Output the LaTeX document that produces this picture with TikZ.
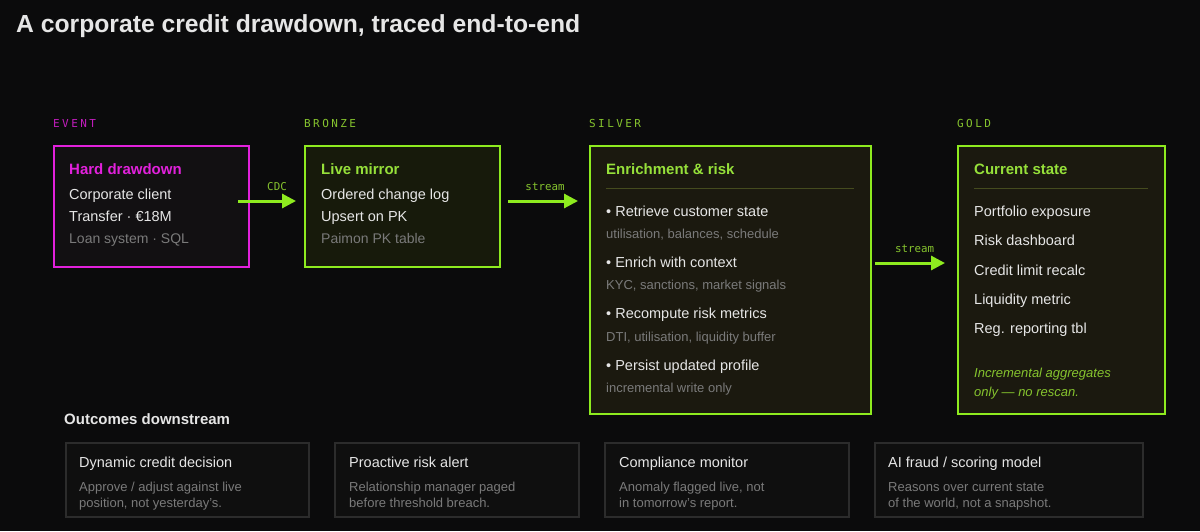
\documentclass[tikz,border=0pt]{standalone}
\usepackage{fontspec}
\setmainfont{Liberation Sans}
\newfontfamily\tierfont[LetterSpace=22]{DejaVu Sans Mono}
\newfontfamily\flowfont{DejaVu Sans Mono}
\usetikzlibrary{arrows.meta,positioning,calc}

\definecolor{bgC}{HTML}{0B0B0C}
\definecolor{magC}{HTML}{E221DC}
\definecolor{magD}{HTML}{C31DBE}
\definecolor{limeC}{HTML}{8EEB1F}
\definecolor{limeT}{HTML}{96E03A}
\definecolor{limeD}{HTML}{86C42E}
\definecolor{txtC}{HTML}{E6E6E6}
\definecolor{dimC}{HTML}{7A7A7A}
\definecolor{ruleC}{HTML}{454B1E}
\definecolor{evFill}{HTML}{121012}
\definecolor{brFill}{HTML}{171A0B}
\definecolor{svFill}{HTML}{1B190F}
\definecolor{ocFill}{HTML}{0F0F0F}
\definecolor{ocLine}{HTML}{2C2C2C}

\tikzstyle{tierL}=[anchor=base west,inner sep=0pt,font=\tierfont\fontsize{11}{11}\selectfont]
\tikzstyle{bxS}=[anchor=north west,inner sep=0pt,line width=2pt,draw=limeC]
\tikzstyle{hdS}=[anchor=base west,inner sep=0pt,text=limeT,font=\bfseries\fontsize{15}{15}\selectfont]
\tikzstyle{lnS}=[anchor=base west,inner sep=0pt,text=txtC,font=\fontsize{14.5}{14.5}\selectfont]
\tikzstyle{smS}=[anchor=base west,inner sep=0pt,text=dimC,font=\fontsize{13}{13}\selectfont]
\tikzstyle{ocS}=[anchor=north west,inner sep=0pt,line width=2pt,draw=ocLine,fill=ocFill,minimum height=74pt]
\tikzstyle{eFlow}=[line width=3pt,draw=limeC,-{Triangle[length=14pt,width=14pt]}]
\tikzstyle{eLbl}=[above=9pt,inner sep=0pt,text=limeD,font=\flowfont\fontsize{10.8}{10.8}\selectfont]
\tikzstyle{ruleS}=[line width=0.8pt,draw=ruleC]

\begin{document}
\begin{tikzpicture}[x=1pt,y=-1pt]
                \fill[bgC] (0,0) rectangle (1200,531);
                \useasboundingbox (0,0) rectangle (1200,531);
                \draw (16,32) node[anchor=base west,inner sep=0pt,text=txtC,font=\bfseries\fontsize{24.7}{24.7}\selectfont] (ttl) {A corporate credit drawdown, traced end-to-end};
                % tiers
                \draw (53,127) node[tierL,text=magD] (tE) {EVENT};
                \draw (304,127) node[tierL,text=limeD] (tB) {BRONZE};
                \draw (589,127) node[tierL,text=limeD] (tS) {SILVER};
                \draw (957,127) node[tierL,text=limeD] (tG) {GOLD};
                % boxes
                \draw (53,145) node[bxS,draw=magC,fill=evFill,minimum width=195pt,minimum height=121pt] (ev) {};
                \draw (304,145) node[bxS,fill=brFill,minimum width=195pt,minimum height=121pt] (br) {};
                \draw (589,145) node[bxS,fill=svFill,minimum width=281pt,minimum height=268pt] (sv) {};
                \draw (957,145) node[bxS,fill=svFill,minimum width=207pt,minimum height=268pt] (gd) {};
                % event
                \draw (69,174) node[hdS,text=magC] (ev0) {Hard drawdown};
                \draw (69,199) node[lnS] (ev1) {Corporate client};
                \draw (69,221) node[lnS] (ev2) {Transfer · €18M};
                \draw (69,243) node[lnS,text=dimC,font=\fontsize{14}{14}\selectfont] (ev3) {Loan system · SQL};
                % bronze
                \draw (321,174) node[hdS] (br0) {Live mirror};
                \draw (321,199) node[lnS] (br1) {Ordered change log};
                \draw (321,221) node[lnS] (br2) {Upsert on PK};
                \draw (321,243) node[lnS,text=dimC,font=\fontsize{14}{14}\selectfont] (br3) {Paimon PK table};
                % silver
                \draw (606,174) node[hdS] (sv0) {Enrichment \& risk};
                \draw[ruleS] (606,188) -- (854,188);
                \draw (606,216) node[lnS] (sv1) {• Retrieve customer state};
                \draw (606,238) node[smS] (sv1s) {utilisation, balances, schedule};
                \draw (606,267) node[lnS] (sv2) {• Enrich with context};
                \draw (606,289) node[smS] (sv2s) {KYC, sanctions, market signals};
                \draw (606,318) node[lnS] (sv3) {• Recompute risk metrics};
                \draw (606,341) node[smS] (sv3s) {DTI, utilisation, liquidity buffer};
                \draw (606,370) node[lnS] (sv4) {• Persist updated profile};
                \draw (606,392) node[smS] (sv4s) {incremental write only};
                % gold
                \draw (974,174) node[hdS] (gd0) {Current state};
                \draw[ruleS] (974,188) -- (1148,188);
                \draw (974,216) node[lnS] (gd1) {Portfolio exposure};
                \draw (974,245) node[lnS] (gd2) {Risk dashboard};
                \draw (974,275) node[lnS] (gd3) {Credit limit recalc};
                \draw (974,304) node[lnS] (gd4) {Liquidity metric};
                \draw (974,333) node[lnS] (gd5) {Reg. reporting tbl};
                \draw (974,377) node[smS,text=limeD,font=\itshape\fontsize{13}{13}\selectfont] (gd6) {Incremental aggregates};
                \draw (974,396) node[smS,text=limeD,font=\itshape\fontsize{13}{13}\selectfont] (gd7) {only — no rescan.};
                % flows
                \path
                    ([yshift=5.5pt]ev.east) edge[eFlow,shorten <=-12pt,shorten >=8pt] node[eLbl]{CDC} ([yshift=5.5pt]br.west)
                    ([yshift=5.5pt]br.east) edge[eFlow,shorten <=7pt,shorten >=11pt] node[eLbl]{stream} ($(sv.west |- br.east)+(0,-5.5)$)
                    ([yshift=17pt]sv.east) edge[eFlow,shorten <=3pt,shorten >=12pt] node[eLbl]{stream} ([yshift=17pt]gd.west)
                ;
                % outcomes
                \draw (64,424) node[anchor=base west,inner sep=0pt,text=txtC,font=\bfseries\fontsize{15}{15}\selectfont] (oc) {Outcomes downstream};
                \draw (65,442) node[ocS,minimum width=243pt] (o1) {};
                \draw (334,442) node[ocS,minimum width=244pt] (o2) {};
                \draw (604,442) node[ocS,minimum width=244pt] (o3) {};
                \draw (874,442) node[ocS,minimum width=268pt] (o4) {};
                \draw (79,467) node[lnS] (o1a) {Dynamic credit decision};
                \draw (79,491) node[smS] (o1b) {Approve / adjust against live};
                \draw (79,507) node[smS] (o1c) {position, not yesterday's.};
                \draw (349,467) node[lnS] (o2a) {Proactive risk alert};
                \draw (349,491) node[smS] (o2b) {Relationship manager paged};
                \draw (349,507) node[smS] (o2c) {before threshold breach.};
                \draw (619,467) node[lnS] (o3a) {Compliance monitor};
                \draw (619,491) node[smS] (o3b) {Anomaly flagged live, not};
                \draw (619,507) node[smS] (o3c) {in tomorrow's report.};
                \draw (888,467) node[lnS] (o4a) {AI fraud / scoring model};
                \draw (888,491) node[smS] (o4b) {Reasons over current state};
                \draw (888,507) node[smS] (o4c) {of the world, not a snapshot.};
        \end{tikzpicture}
\end{document}
